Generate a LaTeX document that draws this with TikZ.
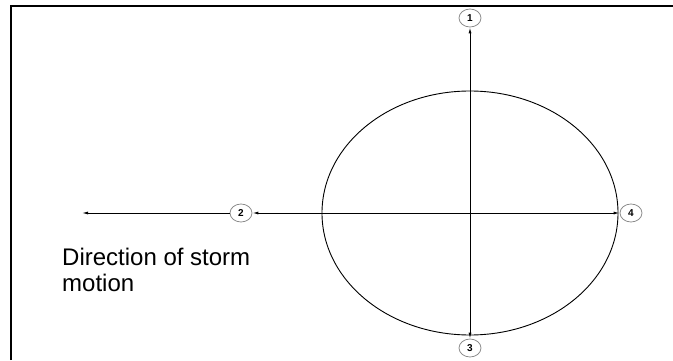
\documentclass[tikz,border=0pt]{standalone}
\usepackage{fontspec}
\setmainfont{Liberation Sans}
\usetikzlibrary{arrows.meta,shapes.geometric}
\begin{document}
\begin{tikzpicture}[x=1pt,y=1pt,
  numnode/.style={draw=black!45, line width=0.8pt, ellipse, minimum width=22pt, minimum height=18pt, inner sep=0pt, font=\fontsize{10}{10}\selectfont\bfseries},
  arr/.style={line width=0.9pt, -{Latex[length=6pt,width=3pt]}},
  darr/.style={line width=0.9pt, {Latex[length=6pt,width=3pt]}-{Latex[length=6pt,width=3pt]}}]
\useasboundingbox (0,0) rectangle (673,360);
\fill[white] (0,0) rectangle (673,360);
\draw[line width=1.5pt] (11,0) -- (11,354) -- (673,354);
\draw[line width=0.9pt] (470,147) ellipse [x radius=148, y radius=122];
\node[numnode] (n1) at (470,342) {1};
\node[numnode] (n3) at (470,12) {3};
\node[numnode] (n2) at (241,147) {2};
\node[numnode] (n4) at (631,147) {4};
\coordinate (tipL) at (82,147);
\draw[darr] (n3) -- (n1);
\draw[darr] (n2) -- (n4);
\draw[arr] (n2) -- (tipL);
\node[anchor=west, align=left, font=\fontsize{24}{26}\selectfont, inner sep=0pt] (lbl) at (62,90) {Direction of storm\\motion};
\end{tikzpicture}
\end{document}
